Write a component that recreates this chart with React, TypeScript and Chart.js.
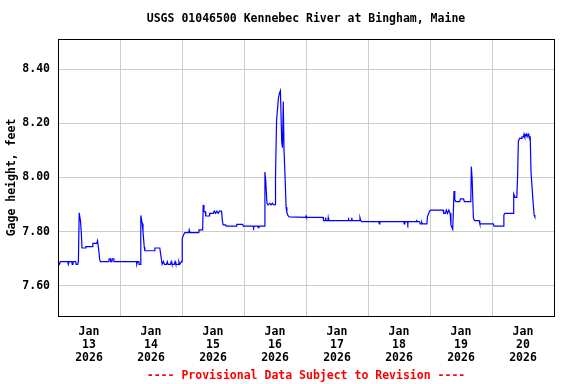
import { useEffect, useRef } from "react";
import { Chart, registerables } from "chart.js";

Chart.register(...registerables);

// Day categories (x-axis labels, centred under each day)
const dayLabels = [
  "Jan 13 2026",
  "Jan 14 2026",
  "Jan 15 2026",
  "Jan 16 2026",
  "Jan 17 2026",
  "Jan 18 2026",
  "Jan 19 2026",
  "Jan 20 2026",
];
// hours since Jan 13 00:00
const dayCenterHours = [12, 36, 60, 84, 108, 132, 156, 180];
const dayBoundaryHours = [0, 24, 48, 72, 96, 120, 144, 168, 192];
const yTickValues = [7.6, 7.8, 8.0, 8.2, 8.4];

// Observation times (hours since Jan 13 2026 00:00)
const hours = [
  0, 0.6, 0.9, 3.8, 4.0, 4.3, 5.3, 5.5, 5.8, 6.9, 7.0, 7.6, 7.9, 8.1, 8.2, 8.7, 9.0, 9.3,
  10.7, 10.8, 13.3, 13.5, 15.0, 15.3, 15.8, 16.1, 16.4, 19.7, 19.8, 20.3, 20.4, 20.9, 21.0,
  21.6, 21.7, 30.4, 30.5, 30.8, 31.3, 31.4, 31.8, 32.0, 32.1, 32.6, 32.9, 33.4, 33.6, 37.4,
  37.5, 39.4, 39.8, 40.3, 40.8, 41.2, 42.0, 42.3, 42.6, 43.5, 43.8, 44.1, 45.0, 45.3, 45.6,
  46.5, 46.8, 47.1, 47.8, 48.0, 48.1, 48.6, 49.1, 50.6, 50.8, 51.1, 54.5, 54.6, 56.0, 56.2,
  56.5, 57.0, 57.2, 58.5, 58.7, 60.1, 60.5, 61.0, 61.5, 62.0, 62.5, 63.3, 63.6, 63.9, 64.9,
  65.1, 69.0, 69.2, 71.5, 71.7, 75.5, 75.7, 76.0, 77.3, 77.5, 77.8, 80.0, 80.1, 80.4, 80.9,
  81.3, 82.0, 82.5, 83.0, 83.5, 84.0, 84.2, 84.6, 85.3, 85.7, 86.1, 86.6, 86.9, 87.2, 87.5,
  87.9, 88.3, 88.6, 89.0, 89.5, 95.8, 96.0, 96.2, 102.6, 102.8, 103.5, 103.6, 103.8, 104.5,
  104.6, 104.8, 112.3, 112.4, 112.6, 113.6, 113.7, 113.9, 116.7, 116.9, 117.2, 117.6, 124.2,
  124.4, 124.6, 133.9, 134.0, 134.3, 135.2, 135.4, 135.6, 138.7, 138.8, 139.2, 140.0, 140.2,
  140.7, 140.8, 141.0, 142.8, 143.0, 143.8, 144.2, 149.1, 149.3, 150.0, 150.3, 150.8, 151.3,
  151.8, 152.1, 152.8, 153.3, 153.6, 154.0, 155.5, 155.8, 157.0, 157.3, 159.8, 160.0, 160.3,
  160.8, 161.3, 163.0, 163.3, 168.5, 168.8, 172.4, 172.6, 173.0, 176.2, 176.4, 176.9, 177.6,
  177.9, 178.2, 178.6, 179.4, 179.6, 180.2, 180.4, 180.7, 181.3, 181.6, 182.0, 182.3, 182.8,
  183.1, 183.8, 184.3, 184.6,
];

// Gage height, feet
const gageHeight = [
  7.69, 7.68, 7.69, 7.69, 7.68, 7.69, 7.69, 7.68, 7.69, 7.69, 7.68, 7.68, 7.69, 7.69, 7.87,
  7.84, 7.8, 7.74, 7.74, 7.745, 7.745, 7.757, 7.757, 7.767, 7.73, 7.7, 7.69, 7.69, 7.7, 7.7,
  7.69, 7.69, 7.7, 7.7, 7.69, 7.69, 7.68, 7.69, 7.69, 7.68, 7.68, 7.69, 7.86, 7.83, 7.8,
  7.743, 7.73, 7.73, 7.74, 7.74, 7.714, 7.68, 7.69, 7.68, 7.68, 7.69, 7.68, 7.68, 7.69,
  7.68, 7.68, 7.69, 7.68, 7.68, 7.69, 7.68, 7.69, 7.69, 7.776, 7.788, 7.797, 7.797, 7.807,
  7.797, 7.797, 7.807, 7.807, 7.899, 7.874, 7.874, 7.858, 7.858, 7.868, 7.868, 7.876, 7.868,
  7.876, 7.868, 7.876, 7.876, 7.843, 7.825, 7.825, 7.821, 7.821, 7.827, 7.827, 7.821, 7.821,
  7.815, 7.821, 7.821, 7.815, 7.821, 7.821, 8.02, 7.99, 7.905, 7.899, 7.905, 7.899, 7.905,
  7.899, 7.9, 8.0, 8.21, 8.29, 8.31, 8.32, 8.13, 8.11, 8.28, 8.1, 8.0, 7.89, 7.87, 7.86,
  7.855, 7.853, 7.858, 7.853, 7.853, 7.841, 7.841, 7.852, 7.841, 7.841, 7.852, 7.841, 7.841,
  7.852, 7.841, 7.841, 7.852, 7.841, 7.841, 7.852, 7.841, 7.837, 7.837, 7.829, 7.837, 7.837,
  7.829, 7.837, 7.837, 7.829, 7.837, 7.837, 7.841, 7.837, 7.837, 7.829, 7.829, 7.835, 7.829,
  7.829, 7.855, 7.875, 7.88, 7.88, 7.868, 7.868, 7.88, 7.868, 7.88, 7.868, 7.825, 7.809,
  7.95, 7.917, 7.911, 7.911, 7.921, 7.921, 7.911, 7.911, 8.04, 7.997, 7.85, 7.841, 7.841,
  7.829, 7.829, 7.821, 7.821, 7.862, 7.868, 7.868, 7.939, 7.927, 7.927, 8.001, 8.132, 8.144,
  8.144, 8.15, 8.15, 8.16, 8.15, 8.16, 8.15, 8.16, 8.15, 8.15, 8.021, 7.923, 7.862, 7.855,
];

const FAMILY = "'DejaVu Sans Mono', 'Liberation Mono', monospace";

const framePlugin = {
  id: "frame",
  afterDatasetsDraw(chart: any) {
    const { ctx, chartArea } = chart;
    const { left, top, right, bottom } = chartArea;
    ctx.save();
    ctx.strokeStyle = "#000000";
    ctx.lineWidth = 1;
    ctx.strokeRect(
      Math.round(left) + 0.5,
      Math.round(top) + 0.5,
      Math.round(right - left),
      Math.round(bottom - top)
    );
    ctx.restore();
  },
};

export default function App() {
  const canvasRef = useRef<HTMLCanvasElement | null>(null);

  useEffect(() => {
    if (!canvasRef.current) return;
    const points = hours.map((h, i) => ({ x: h, y: gageHeight[i] }));
    const font = { family: FAMILY, size: 11.5, weight: "bold" as const };

    const chart = new Chart(canvasRef.current, {
      type: "line",
      data: {
        datasets: [
          {
            data: points,
            borderColor: "#0000ff",
            borderWidth: 1.2,
            pointRadius: 0,
            tension: 0,
            fill: false,
          },
        ],
      },
      plugins: [framePlugin],
      options: {
        animation: false,
        responsive: false,
        devicePixelRatio: 1,
        layout: { padding: { left: 0, right: 22, top: 0, bottom: 0 } },
        plugins: {
          legend: { display: false },
          tooltip: { enabled: false },
          title: {
            display: true,
            text: "USGS 01046500 Kennebec River at Bingham, Maine",
            fullSize: false,
            color: "#000000",
            font: { ...font, lineHeight: "14px" },
            padding: { top: 12, bottom: 13 },
          },
        },
        scales: {
          x: {
            type: "linear",
            position: "bottom",
            min: 0,
            max: 192,
            afterBuildTicks: (s: any) => {
              s.ticks = dayBoundaryHours.map((v) => ({ value: v }));
            },
            ticks: { display: false },
            grid: { color: "#cccccc", drawTicks: false, lineWidth: 1 },
            border: { display: false },
            afterFit: (s: any) => {
              s.height = 0;
            },
          },
          x2: {
            type: "linear",
            position: "bottom",
            min: 0,
            max: 192,
            afterBuildTicks: (s: any) => {
              s.ticks = dayCenterHours.map((v) => ({ value: v }));
            },
            grid: { display: false, drawTicks: false },
            border: { display: false },
            ticks: {
              autoSkip: false,
              maxRotation: 0,
              minRotation: 0,
              padding: 10,
              color: "#000000",
              font: { ...font, lineHeight: "13px" },
              callback: (_v: any, i: number) => dayLabels[i].split(" "),
            },
            title: {
              display: true,
              text: "---- Provisional Data Subject to Revision ----",
              color: "#ff0000",
              font: { ...font, lineHeight: "14px" },
              padding: { top: 4, bottom: 1 },
            },
            afterFit: (s: any) => {
              s.height = 68;
            },
          },
          y: {
            type: "linear",
            min: 7.4894,
            max: 8.5106,
            afterBuildTicks: (s: any) => {
              s.ticks = yTickValues.map((v) => ({ value: v }));
            },
            ticks: {
              padding: 8,
              color: "#000000",
              font,
              callback: (v: any) => Number(v).toFixed(2),
            },
            grid: { color: "#cccccc", drawTicks: false, lineWidth: 1 },
            border: { display: false },
            title: {
              display: true,
              text: "Gage height, feet",
              color: "#000000",
              font: { ...font, lineHeight: "14px" },
              padding: { top: 5, bottom: 0 },
            },
            afterFit: (s: any) => {
              s.width = 58;
            },
          },
        },
      },
    } as any);

    return () => chart.destroy();
  }, []);

  return (
    <div style={{ position: "absolute", left: 0, top: 0, width: 576, height: 384, background: "#ffffff" }}>
      <canvas ref={canvasRef} width={576} height={384} style={{ display: "block" }} />
    </div>
  );
}
